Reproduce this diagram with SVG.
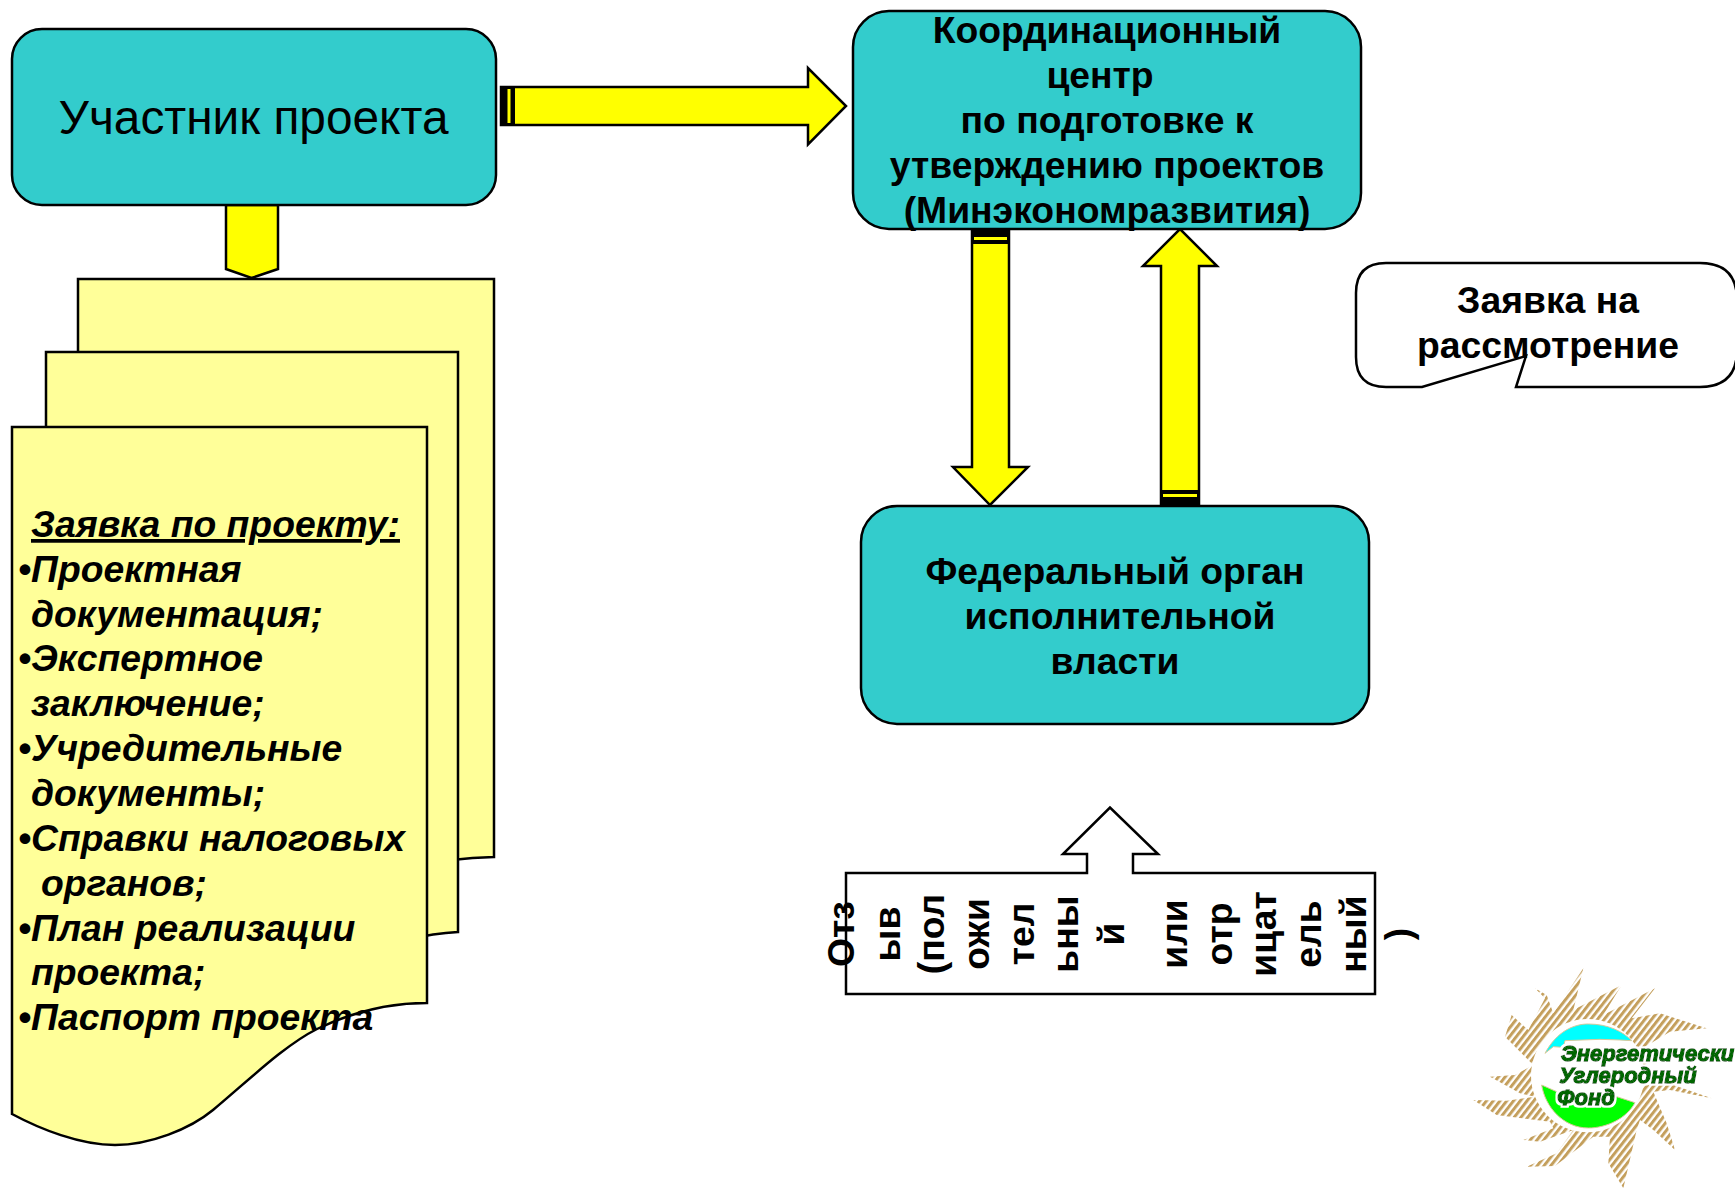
<svg xmlns="http://www.w3.org/2000/svg" width="1735" height="1189" viewBox="0 0 1735 1189">
<style>
text{font-family:"Liberation Sans",Arial,sans-serif;fill:#000}
.b{font-weight:700;font-size:37.300px;text-anchor:middle}
.teal{fill:#33CCCC;stroke:#000;stroke-width:2.5}
.ar{fill:#FFFF00;stroke:#000;stroke-width:2.5;stroke-linejoin:miter}
.band{fill:#000}
.line{fill:#FFFF00}
.doc{fill:#FFFF99;stroke:#000;stroke-width:2.5}
.li{font-weight:700;font-style:italic;font-size:37.300px}
.v{font-weight:700;font-size:37.300px;text-anchor:middle}
.lg{font-weight:700;font-style:italic;font-size:66px;fill:#006600;stroke:#006600;stroke-width:4px;filter:url(#halo)}
</style>
<defs>
<pattern id="hatch" width="16" height="16" patternUnits="userSpaceOnUse" patternTransform="rotate(-52)">
<rect width="16" height="16" fill="#fff"/><rect width="16" height="9" fill="#C49F5C"/>
</pattern>
<filter id="halo" x="-5%" y="-20%" width="110%" height="140%">
<feMorphology in="SourceAlpha" operator="dilate" radius="6" result="d"/>
<feFlood flood-color="#fff"/>
<feComposite in2="d" operator="in" result="w"/>
<feMerge><feMergeNode in="w"/><feMergeNode in="SourceGraphic"/></feMerge>
</filter>
</defs>
<rect width="1735" height="1189" fill="#fff"/>
<g id="connectors">
<path class="ar" d="M501 87H808V68L846 106L808 144.500V125H501Z"/>
<rect class="band" x="501" y="87" width="14" height="38"/><rect class="line" x="507.500" y="89" width="3" height="34"/>
<path class="ar" d="M972 229V467H953L990 505L1028 467H1009V229Z"/>
<rect class="band" x="972" y="229" width="37" height="15"/><rect class="line" x="974" y="237" width="33" height="3"/>
<path class="ar" d="M1161 504V266H1143L1180 229L1217 266H1199V504Z"/>
<rect class="band" x="1161" y="490" width="38" height="14"/><rect class="line" x="1163" y="494" width="34" height="3"/>
<path class="ar" d="M226 205V269L251.500 278L278 269V205Z"/>
</g>
<g id="doc-stack">
<path class="doc" d="M78 279H494V857C430 859 390 871 348 886L78 1000Z"/>
<path class="doc" d="M46 352H458V932C420 934 385 944 348 958L46 1060Z"/>
<path class="doc" d="M12 427H427V1003C385 1003 350 1013 317 1029C285 1045 250 1079 213 1110C190 1129 150 1145 115 1145C80 1145 40 1129 12 1114Z"/>
<text class="li" x="31" y="537" text-decoration="underline">Заявка по проекту:</text>
<text class="li" x="18" y="582">•Проектная</text>
<text class="li" x="31" y="627">документация;</text>
<text class="li" x="18" y="671">•Экспертное</text>
<text class="li" x="31" y="716">заключение;</text>
<text class="li" x="18" y="761">•Учредительные</text>
<text class="li" x="31" y="806">документы;</text>
<text class="li" x="18" y="851">•Справки налоговых</text>
<text class="li" x="41" y="896">органов;</text>
<text class="li" x="18" y="941">•План реализации</text>
<text class="li" x="31" y="985">проекта;</text>
<text class="li" x="18" y="1030">•Паспорт проекта</text>
</g>
<g id="participant">
<rect class="teal" x="12" y="29" width="484" height="176" rx="30"/>
<text x="253.500" y="134" font-size="47.800" text-anchor="middle">Участник проекта</text>
</g>
<g id="coord-center">
<rect class="teal" x="853" y="11" width="508" height="218" rx="36"/>
<text class="b" x="1107" y="43">Координационный</text>
<text class="b" x="1100" y="88">центр</text>
<text class="b" x="1107" y="133">по подготовке к</text>
<text class="b" x="1107" y="178">утверждению проектов</text>
<text class="b" x="1107" y="223">(Минэкономразвития)</text>
</g>
<g id="federal">
<rect class="teal" x="861" y="506" width="508" height="218" rx="36"/>
<text class="b" x="1115" y="584">Федеральный орган</text>
<text class="b" x="1120" y="629">исполнительной</text>
<text class="b" x="1115" y="674">власти</text>
</g>
<g id="callout">
<path d="M1386 263H1700Q1737 263 1737 300V350Q1737 387 1700 387H1516L1526 356L1422 387H1386Q1356 387 1356 357V293Q1356 263 1386 263Z" fill="#fff" stroke="#000" stroke-width="2.500"/>
<text class="b" x="1548" y="313">Заявка на</text>
<text class="b" x="1548" y="358">рассмотрение</text>
</g>
<g id="review">
<path d="M846 873H1087V854H1063L1110 807.500L1158 854H1133V873H1375V994H846Z" fill="#fff" stroke="#000" stroke-width="2.500"/>
<text class="v" transform="translate(854 934) rotate(-90)">Отз</text>
<text class="v" transform="translate(900 934) rotate(-90)">ыв</text>
<text class="v" transform="translate(944 934) rotate(-90)">(пол</text>
<text class="v" transform="translate(989 934) rotate(-90)">ожи</text>
<text class="v" transform="translate(1034 934) rotate(-90)">тел</text>
<text class="v" transform="translate(1078 934) rotate(-90)">ьны</text>
<text class="v" transform="translate(1124 934) rotate(-90)">й</text>
<text class="v" transform="translate(1187 934) rotate(-90)">или</text>
<text class="v" transform="translate(1232 934) rotate(-90)">отр</text>
<text class="v" transform="translate(1276 934) rotate(-90)">ицат</text>
<text class="v" transform="translate(1321 934) rotate(-90)">ель</text>
<text class="v" transform="translate(1366 934) rotate(-90)">ный</text>
<text class="v" transform="translate(1411 934) rotate(-90)">)</text>
</g>
<g id="logo" transform="translate(1440 950) scale(.33333)">
<path fill="url(#hatch)" d="M430 55L400 180L545 105L490 195L645 115L575 205L660 190L800 235L690 245L615 290L625 390L700 405L815 445L690 420L640 425L680 520L705 600L640 540L600 510L590 540L550 715L505 640L510 560L460 560L345 648L260 650L350 610L400 540L300 575L250 570L340 535L330 515L170 495L100 450L200 452L285 440L240 430L150 380L225 375L280 345L195 260L215 195L265 240L315 145L285 115L320 135L340 190Z"/>
<circle cx="443" cy="377" r="170" fill="#fff"/>
<path d="M315 310C350 245 400 222 445 222C505 222 550 245 575 272L540 270L480 268L375 272L370 292L340 290Z" fill="#00FFFF" stroke="#D8C89A" stroke-width="3"/>
<path d="M305 405L350 425L530 440L585 458C560 505 500 534 445 534C370 534 315 470 305 405Z" fill="#00FF00" stroke="#D8C89A" stroke-width="3"/>
<text class="lg" x="363" y="332">Энергетически</text>
<text class="lg" x="358" y="398">Углеродный</text>
<text class="lg" x="352" y="464">Фонд</text>
</g>
</svg>
